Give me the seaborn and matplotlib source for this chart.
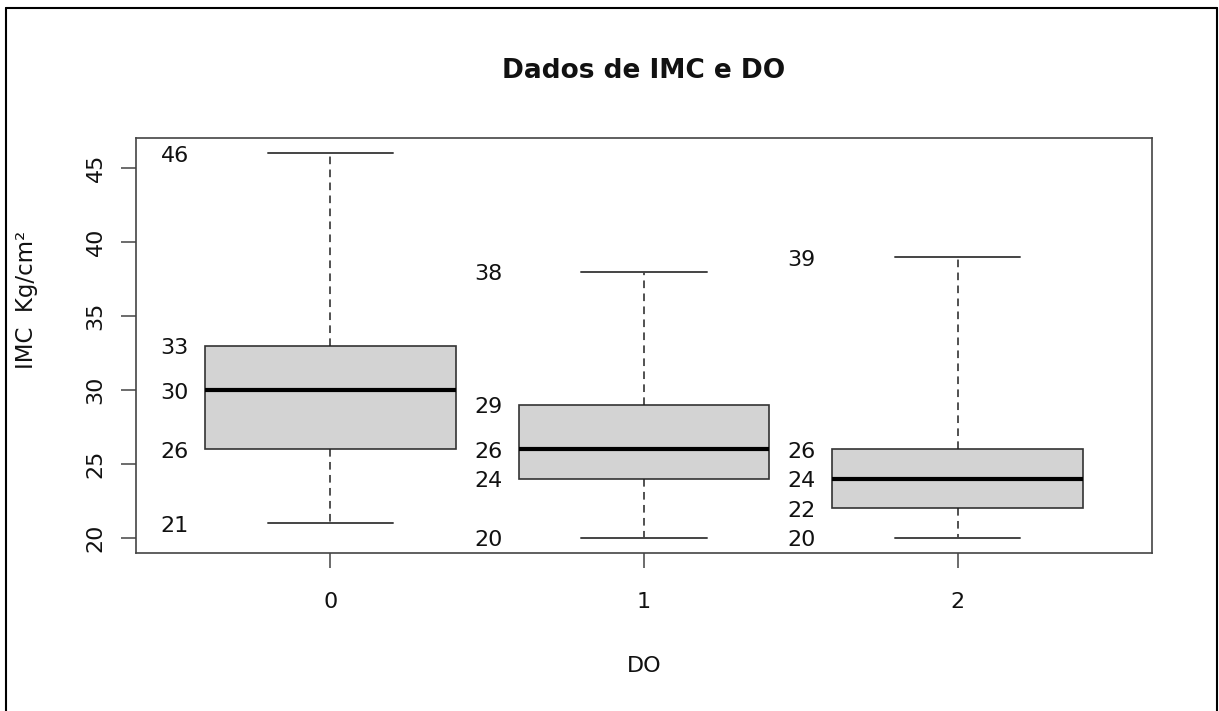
import numpy as np
import pandas as pd
import seaborn as sns
import matplotlib.pyplot as plt
from matplotlib.lines import Line2D

# resumo de cada grupo de DO: minimo, Q1, mediana, Q3, maximo
do_grupos = ["0", "1", "2"]
imc_do0 = [21, 26, 30, 33, 46]
imc_do1 = [20, 24, 26, 29, 38]
imc_do2 = [20, 22, 24, 26, 39]
y_ticks = [20, 25, 30, 35, 40, 45]

titulo = "Dados de IMC e DO"
rotulo_x = "DO"
rotulo_y = "IMC  Kg/cm²"

# tabela longa para o seaborn
valores = [imc_do0, imc_do1, imc_do2]
df = pd.DataFrame({
    "DO": np.repeat(do_grupos, 5),
    "IMC": imc_do0 + imc_do1 + imc_do2,
})

sns.set_style("white")
plt.rcParams["font.family"] = ["DejaVu Sans"]

fig = plt.figure(figsize=(12.19, 7.11), dpi=100)
ax = fig.add_axes([0.1116, 0.2222, 0.8335, 0.5837])

sns.boxplot(
    data=df, x="DO", y="IMC", order=do_grupos, ax=ax,
    whis=(0, 100), width=0.8, color="#d3d3d3", saturation=1,
    linecolor="#333333", linewidth=1.2, fliersize=0,
    medianprops=dict(color="black", linewidth=3),
    whiskerprops=dict(color="#222222", linewidth=1.1, linestyle=(0, (5, 3.5))),
    capprops=dict(color="#444444", linewidth=1.4),
    capwidths=0.4,
)

# numeros ao lado de cada caixa
for i, vals in enumerate(valores):
    for v in sorted(set(vals)):
        ax.annotate(str(v), xy=(i - 0.452, v), xytext=(0, -2),
                    textcoords="offset points", ha="right", va="center",
                    fontsize=16, color="#111111")

ax.set_xlim(-0.62, 2.62)
ax.set_ylim(18.96, 47.04)
ax.set_yticks(y_ticks)
ax.set_yticklabels([str(t) for t in y_ticks])

for s in ax.spines.values():
    s.set_color("#444444")
    s.set_linewidth(1.2)

ax.tick_params(axis="both", direction="out", length=11, width=1.1,
               color="#444444", labelsize=16, labelcolor="#111111",
               bottom=True, left=True)
ax.tick_params(axis="y", pad=11, labelrotation=90)
ax.tick_params(axis="x", pad=17)
for lab in ax.get_yticklabels():
    lab.set_va("center")

ax.set_xlabel(rotulo_x, fontsize=16, color="#111111")
ax.xaxis.set_label_coords(0.5, -0.272)
ax.xaxis.label.set_va("center")
ax.set_ylabel(rotulo_y, fontsize=16.5, color="#111111")
ax.yaxis.set_label_coords(-0.108, 0.61)
ax.yaxis.label.set_va("center")

fig.text(0.5283, 0.9001, titulo, ha="center", va="center",
         fontsize=19, fontweight="bold", color="#111111")

# moldura externa da figura
fig.add_artist(Line2D([0.0049, 0.0049], [0.0, 0.98875], color="black", lw=1.5))
fig.add_artist(Line2D([0.9984, 0.9984], [0.0, 0.98875], color="black", lw=1.5))
fig.add_artist(Line2D([0.0049, 0.9984], [0.98875, 0.98875], color="black", lw=1.5))

fig.savefig("out.png", dpi=100)
